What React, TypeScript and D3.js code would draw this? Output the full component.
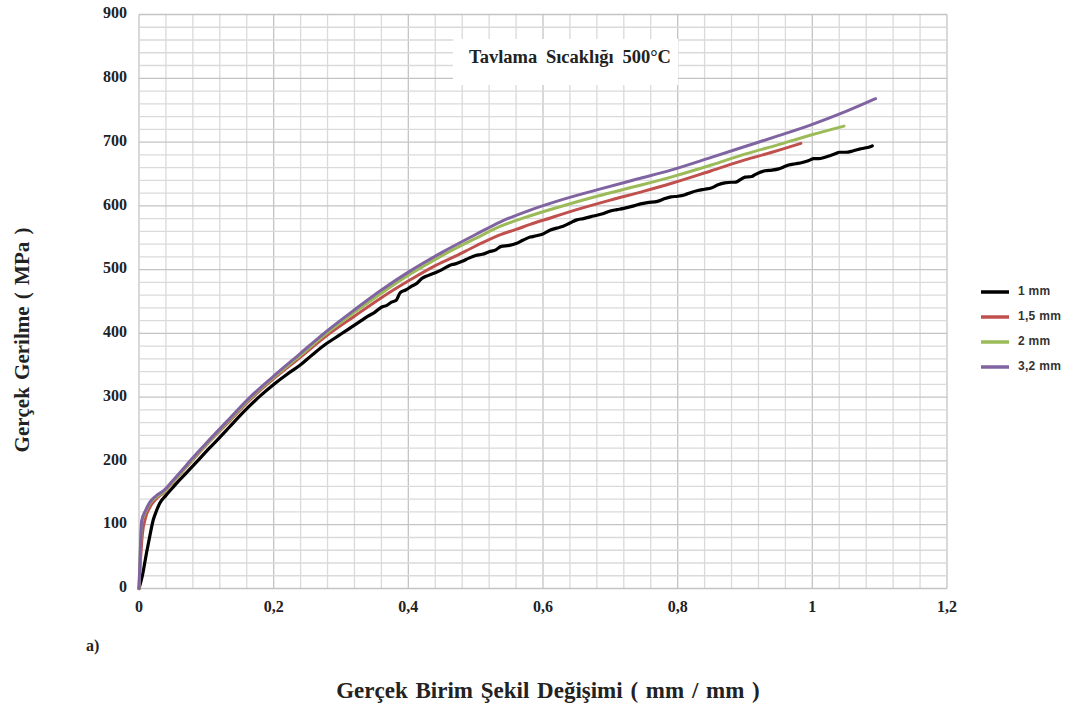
import * as d3 from "d3";

// strain (mm/mm) and true stress (MPa)
const x1mm = [0, 0.005, 0.011, 0.016, 0.021, 0.026, 0.031, 0.04, 0.05, 0.06, 0.07, 0.086, 0.1, 0.11, 0.12, 0.135, 0.15, 0.165, 0.18, 0.2, 0.22, 0.239, 0.258, 0.277, 0.29, 0.3, 0.31, 0.32, 0.33, 0.34, 0.35, 0.36, 0.368, 0.375, 0.382, 0.388, 0.396, 0.405, 0.412, 0.42, 0.43, 0.44, 0.45, 0.462, 0.47, 0.48, 0.49, 0.5, 0.51, 0.52, 0.53, 0.537, 0.55, 0.56, 0.57, 0.581, 0.59, 0.6, 0.611, 0.62, 0.63, 0.64, 0.65, 0.66, 0.675, 0.69, 0.7, 0.71, 0.72, 0.735, 0.745, 0.755, 0.77, 0.78, 0.79, 0.8, 0.81, 0.82, 0.83, 0.84, 0.85, 0.86, 0.87, 0.88, 0.885, 0.9, 0.91, 0.915, 0.93, 0.94, 0.95, 0.96, 0.965, 0.975, 0.985, 0.995, 1.002, 1.01, 1.015, 1.027, 1.035, 1.04, 1.05, 1.06, 1.07, 1.08, 1.089];
const y1mm = [0, 20, 55, 82, 107, 122, 134, 146, 158, 170, 181, 199, 215, 226, 237, 254, 271, 287, 302, 320, 336, 350, 367, 383, 392, 399, 406, 413, 420, 427, 433, 441, 444, 449, 452, 464, 468, 474, 478, 486, 491, 495, 500, 507, 509, 513, 518, 522, 524, 528, 531, 536, 538, 541, 546, 551, 553, 556, 562, 565, 568, 573, 578, 580, 584, 588, 592, 594, 596, 600, 603, 605, 607, 611, 614, 615, 617, 621, 624, 626, 628, 633, 636, 637, 637, 645, 646, 649, 655, 656, 658, 662, 664, 666, 668, 671, 674, 674, 675, 679, 682, 684, 684, 686, 689, 691, 694];

const x15mm = [0, 0.002, 0.005, 0.01, 0.016, 0.025, 0.036, 0.05, 0.07, 0.086, 0.1, 0.135, 0.165, 0.2, 0.239, 0.277, 0.32, 0.36, 0.403, 0.438, 0.47, 0.5, 0.537, 0.56, 0.581, 0.611, 0.65, 0.7, 0.75, 0.79, 0.85, 0.9, 0.94, 0.983];
const y15mm = [0, 40, 85, 112, 127, 140, 150, 166, 190, 209, 225, 263, 296, 329, 362, 395, 427, 456, 484, 505, 521, 537, 555, 563, 571, 581, 594, 609, 623, 635, 655, 672, 684, 698];

const x2mm = [0, 0.002, 0.004, 0.01, 0.016, 0.025, 0.036, 0.05, 0.07, 0.086, 0.1, 0.135, 0.165, 0.2, 0.239, 0.277, 0.32, 0.36, 0.403, 0.45, 0.5, 0.537, 0.58, 0.62, 0.68, 0.74, 0.79, 0.85, 0.9, 0.95, 0.998, 1.047];
const y2mm = [0, 60, 103, 121, 133, 143, 151, 167, 191, 210, 226, 265, 298, 331, 365, 399, 433, 463, 493, 522, 549, 568, 584, 597, 615, 631, 645, 664, 681, 696, 711, 725];

const x32mm = [0, 0.002, 0.004, 0.01, 0.016, 0.025, 0.036, 0.05, 0.07, 0.086, 0.1, 0.135, 0.165, 0.2, 0.239, 0.277, 0.32, 0.36, 0.403, 0.45, 0.5, 0.537, 0.58, 0.62, 0.68, 0.74, 0.79, 0.85, 0.9, 0.95, 0.998, 1.05, 1.094];
const y32mm = [0, 62, 106, 123, 135, 145, 153, 169, 193, 212, 228, 267, 300, 333, 368, 402, 437, 468, 498, 527, 555, 575, 593, 607, 625, 642, 656, 676, 693, 710, 727, 748, 768];

const seriesNames = ["1 mm", "1,5 mm", "2 mm", "3,2 mm"];
const seriesColors = ["#000000", "#c0504d", "#9bbb59", "#8064a2"];
const seriesX = [x1mm, x15mm, x2mm, x32mm];
const seriesY = [y1mm, y15mm, y2mm, y32mm];

const xTicks = [0, 0.2, 0.4, 0.6, 0.8, 1, 1.2];
const yTicks = [0, 100, 200, 300, 400, 500, 600, 700, 800, 900];

const serif = "Liberation Serif, DejaVu Serif, serif";
const sans = "Liberation Sans, Arial, sans-serif";

export default function App() {
  const width = 1073;
  const height = 712;
  const plot = { left: 139, right: 947, top: 14.5, bottom: 588.5 };

  const x = d3.scaleLinear().domain([0, 1.2]).range([plot.left, plot.right]);
  const y = d3.scaleLinear().domain([0, 900]).range([plot.bottom, plot.top]);

  const minorX = d3.range(0, 1.2001, 0.04);
  const minorY = d3.range(0, 901, 20);

  const line = d3
    .line<[number, number]>()
    .x((d) => x(d[0]))
    .y((d) => y(d[1]))
    .curve(d3.curveMonotoneX);

  const fmt = (v: number) => (v === 0 ? "0" : v === 1 ? "1" : d3.format(".1f")(v).replace(".", ","));

  return (
    <svg
      width={width}
      height={height}
      style={{ position: "absolute", left: 0, top: 0, background: "#fff" }}
    >
      {/* grid */}
      <g>
        {minorX.map((v, i) => (
          <line
            key={"gx" + i}
            x1={x(v)}
            x2={x(v)}
            y1={plot.top}
            y2={plot.bottom}
            stroke={i % 5 === 0 ? "#c4c4c4" : "#dadada"}
            strokeWidth={1.3}
          />
        ))}
        {minorY.map((v, i) => (
          <line
            key={"gy" + i}
            x1={plot.left}
            x2={plot.right}
            y1={y(v)}
            y2={y(v)}
            stroke={i % 5 === 0 ? "#c4c4c4" : "#dadada"}
            strokeWidth={1.3}
          />
        ))}
      </g>

      {/* title box */}
      <rect x={453} y={39} width={225} height={46} fill="#fff" />
      <text
        x={570}
        y={59}
        textAnchor="middle"
        dominantBaseline="middle"
        style={{ fontFamily: serif, fontWeight: "bold", fontSize: 18.5, wordSpacing: "4px" }}
        fill="#222"
      >
        Tavlama Sıcaklığı 500°C
      </text>

      {/* series */}
      {seriesX.map((xs, i) => (
        <path
          key={seriesNames[i]}
          d={line(xs.map((v, j) => [v, seriesY[i][j]] as [number, number])) || ""}
          fill="none"
          stroke={seriesColors[i]}
          strokeWidth={i === 0 ? 3.2 : 3}
          strokeLinejoin="round"
          strokeLinecap="round"
        />
      ))}

      {/* axes labels */}
      {yTicks.map((v) => (
        <text
          key={"yt" + v}
          x={127}
          y={y(v)}
          textAnchor="end"
          dominantBaseline="middle"
          style={{ fontFamily: serif, fontWeight: "bold", fontSize: 16 }}
          fill="#222"
        >
          {v}
        </text>
      ))}
      {xTicks.map((v) => (
        <text
          key={"xt" + v}
          x={x(v)}
          y={608}
          textAnchor="middle"
          dominantBaseline="middle"
          style={{ fontFamily: serif, fontWeight: "bold", fontSize: 16 }}
          fill="#222"
        >
          {fmt(v)}
        </text>
      ))}

      <text
        transform={`translate(24,340) rotate(-90)`}
        textAnchor="middle"
        dominantBaseline="middle"
        style={{ fontFamily: serif, fontWeight: "bold", fontSize: 21, wordSpacing: "2px" }}
        fill="#222"
      >
        Gerçek Gerilme ( MPa )
      </text>
      <text
        x={548}
        y={693}
        textAnchor="middle"
        dominantBaseline="middle"
        style={{ fontFamily: serif, fontWeight: "bold", fontSize: 23, wordSpacing: "2px" }}
        fill="#222"
      >
        Gerçek Birim Şekil Değişimi ( mm / mm )
      </text>
      <text x={86} y={651} style={{ fontFamily: serif, fontWeight: "bold", fontSize: 16 }} fill="#222">
        a)
      </text>

      {/* legend */}
      {seriesNames.map((name, i) => (
        <g key={"lg" + i} transform={`translate(981,${292 + i * 25})`}>
          <line x1={0} x2={28} y1={0} y2={0} stroke={seriesColors[i]} strokeWidth={3.5} />
          <text
            x={37}
            y={0}
            dominantBaseline="middle"
            style={{ fontFamily: sans, fontWeight: "bold", fontSize: 12, letterSpacing: "0.3px" }}
            fill="#333"
          >
            {name}
          </text>
        </g>
      ))}
    </svg>
  );
}
